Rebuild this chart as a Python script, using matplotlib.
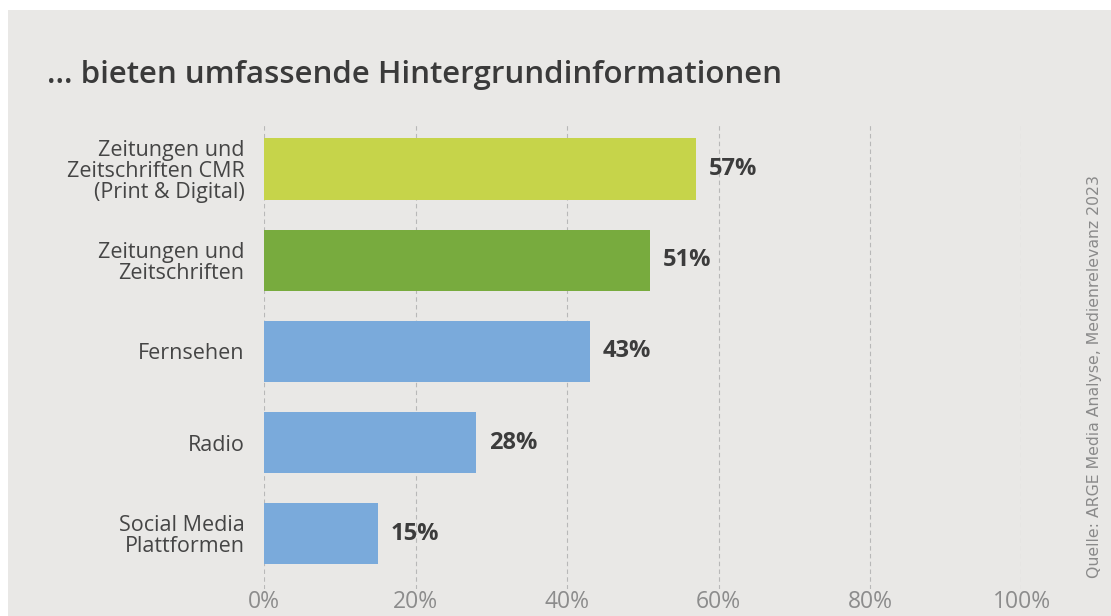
import matplotlib.pyplot as plt
from matplotlib.patches import Rectangle

categories = ["Zeitungen und\nZeitschriften CMR\n(Print & Digital)",
              "Zeitungen und\nZeitschriften",
              "Fernsehen",
              "Radio",
              "Social Media\nPlattformen"]
values = [57, 51, 43, 28, 15]
bar_colors = ["#c6d44a", "#78ab3e", "#7aaadb", "#7aaadb", "#7aaadb"]
xticks = [0, 20, 40, 60, 80, 100]
xticklabels = ["0%", "20%", "40%", "60%", "80%", "100%"]

title = "... bieten umfassende Hintergrundinformationen"
source = "Quelle: ARGE Media Analyse, Medienrelevanz 2023"

plt.rcParams['font.family'] = ['Open Sans', 'DejaVu Sans']
bg = "#e9e8e6"

fig = plt.figure(figsize=(11.11, 6.16), dpi=100)
fig.patch.set_facecolor("white")
fig.patches.append(Rectangle((8/1111, 0), 1, 1 - 10/616, transform=fig.transFigure,
                             facecolor=bg, edgecolor="none", zorder=-10))

ax = fig.add_axes([264/1111, 1 - 589/616, (1021.5 - 264)/1111, (589 - 125)/616])
ax.set_facecolor("none")

y = list(range(len(values)))
ax.barh(y, values, height=0.674, color=bar_colors, zorder=2)
for yi, v in zip(y, values):
    ax.text(v + 1.7, yi, f"{v}%", va="center", ha="left", fontsize=17,
            fontweight="bold", color="#3c3c3c")

ax.set_xlim(0, 100)
ax.set_ylim(4.607, -0.484)
ax.set_xticks(xticks)
ax.set_xticklabels(xticklabels, fontsize=16.5, color="#8c8c8c")
ax.set_yticks(y)
ax.set_yticklabels(categories, fontsize=15.5, color="#454545", linespacing=1.0)
ax.tick_params(axis="x", length=0, pad=1)
ax.tick_params(axis="y", length=0, pad=14)
for lab in ax.get_yticklabels():
    lab.set_horizontalalignment("right")
    lab.set_multialignment("right")
ax.grid(axis="x", color="#b8b8b8", linestyle=(0, (4, 3)), linewidth=0.8, zorder=0)
for s in ax.spines.values():
    s.set_visible(False)

fig.text(47/1111, 1 - 75/616, title, fontsize=22.5, fontweight="semibold",
         color="#3a3a3a", va="center", ha="left")
fig.text(1094/1111, 1 - 376/616, source, rotation=90, fontsize=11.3,
         color="#8a8a8a", va="center", ha="center",
         family=["Liberation Sans Narrow", "DejaVu Sans"])

fig.savefig("out.png", dpi=100, facecolor=fig.get_facecolor())
